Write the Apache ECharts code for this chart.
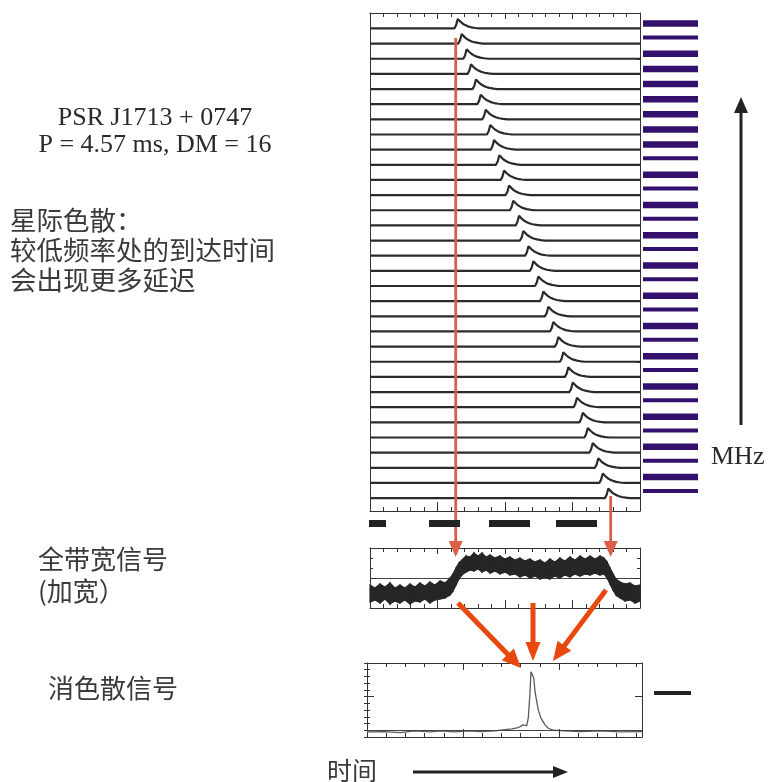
<!DOCTYPE html>
<html><head><meta charset="utf-8">
<script src="https://cdn.jsdelivr.net/npm/echarts@6/dist/echarts.min.js"></script>
<style>html,body{margin:0;padding:0;background:#fff}#c{width:769px;height:782px}</style>
</head><body><div id="c"></div>
<script>
// ---------- DATA ----------
// channel number of each trace, top (highest frequency) to bottom
const channelIndex = [32,31,30,29,28,27,26,25,24,23,22,21,20,19,18,17,16,15,14,13,12,11,10,9,8,7,6,5,4,3,2,1];
// arrival time of the pulse peak in each channel (phase units 0..20), top to bottom
const peakTimes = [6.50,6.79,7.16,7.48,7.85,8.20,8.57,8.91,9.19,9.58,9.93,10.30,10.61,11.04,11.36,11.74,
                   12.10,12.47,12.84,13.21,13.58,13.95,14.32,14.69,15.02,15.33,15.76,16.13,16.50,16.91,17.24,17.65];
// single-channel pulse profile: offset from peak (phase units) and relative amplitude
const pulseDx  = [-0.25,-0.12,0,0.10,0.22,0.37,0.55,0.75,1.0,1.3,1.6];
const pulseAmp = [0,0.35,1,0.85,0.68,0.50,0.35,0.22,0.12,0.05,0];
const pulseHeight = 0.63;
// channel band markers on the right: 1 = wide, 0 = narrow
const bandKind = [1,0,1,1,1,1,1,1,1,0,1,0,1,0,1,0,1,0,1,0,1,0,1,0,1,0,1,0,1,0,1,0];

// full-band (smeared) signal: envelope of the noisy trace
const midX = [0,0.37,0.74,1.11,1.48,1.85,2.22,2.59,2.96,3.33,3.70,4.07,4.44,4.81,5.19,5.56,5.93,6.15,6.37,6.59,
              6.81,7.11,7.41,7.70,8.00,8.30,8.59,8.89,9.26,9.63,10.00,10.37,10.74,11.11,11.48,11.85,12.22,12.59,12.96,13.33,
              13.70,14.07,14.44,14.81,15.19,15.56,15.93,16.30,16.67,17.04,17.33,17.56,17.78,18.00,18.22,18.52,18.89,19.26,19.63,20.00];
const midHigh = [3.83,3.33,4.0,3.5,4.17,3.33,3.83,3.33,4.0,3.5,4.17,3.67,4.33,3.83,4.5,4.17,5.0,5.67,6.67,7.5,
                 8.0,8.67,8.5,9.17,8.67,9.17,8.5,8.83,8.33,8.67,8.17,8.5,8.0,8.33,7.83,8.17,7.67,8.0,7.5,8.17,
                 7.67,8.33,7.83,8.5,8.0,8.67,8.17,8.67,8.17,8.67,8.33,7.67,6.67,5.67,4.83,4.33,4.0,4.17,3.67,3.83];
const midLow  = [1.0,1.33,0.83,1.5,0.67,1.17,0.83,1.33,0.67,1.17,1.0,1.5,0.83,1.33,1.5,1.67,2.17,2.83,3.83,4.83,
                 5.5,6.0,6.33,6.17,6.5,6.0,6.33,5.83,6.17,5.67,6.0,5.5,5.67,5.17,5.5,5.0,5.33,4.83,5.17,4.83,
                 5.33,5.0,5.5,5.17,5.67,5.33,5.67,5.5,5.83,5.5,5.67,5.0,4.0,3.0,2.17,1.67,1.17,1.33,0.83,1.17];

// dedispersed profile
const dedX = [0,0.94,1.72,2.5,3.28,3.8,4.58,5.36,5.89,6.67,7.19,7.55,7.86,7.97,8.13,8.32,8.40,8.48,8.54,8.61,8.68,8.75,8.84,8.92,9.06,9.27,9.44,9.71,10.32,11.09,12.14,13.18,14.32];
const dedY = [-0.05,-0.04,-0.07,-0.02,-0.05,-0.02,-0.05,-0.02,-0.04,-0.02,0.02,0.04,0.08,0.11,0.16,0.14,0.37,1.05,1.74,1.79,1.56,1.15,0.85,0.60,0.36,0.16,0.06,0.0,-0.02,-0.04,-0.02,-0.05,-0.04];

// ---------- CHART ----------
const chart = echarts.init(document.getElementById('c'), null, {renderer:'canvas'});
const INK = '#333';
function xAx(grid, pos, max, interval, len, line){
  return {type:'value', gridIndex:grid, position:pos, min:0, max:max, interval:interval,
    axisLine:{show:line, onZero:false, lineStyle:{color:INK, width:1}},
    axisTick:{show:true, inside:true, length:len, lineStyle:{color:INK, width:1}},
    axisLabel:{show:false}, splitLine:{show:false}};
}
const xAxis = [
  xAx(0,'bottom',20,5,9,true), xAx(0,'bottom',20,1,4,false),
  xAx(0,'top',20,5,6,true),    xAx(0,'top',20,1,4,false),
  xAx(1,'bottom',20,5,8,true), xAx(1,'bottom',20,1,4,false),
  xAx(1,'top',20,5,6,true),    xAx(1,'top',20,1,4,false),
  xAx(2,'bottom',14.32,5,8,true), xAx(2,'bottom',14.32,1,4,false),
  xAx(2,'top',14.32,5,7,true),    xAx(2,'top',14.32,1,4,false),
  {type:'value', gridIndex:3, min:0, max:1, show:false}
];
const yAxis = [
  {type:'value', gridIndex:0, position:'left', min:0.15, max:33.02,
   axisLine:{show:true, onZero:false, lineStyle:{color:INK}}, axisTick:{show:false}, axisLabel:{show:false}, splitLine:{show:false}},
  {type:'value', gridIndex:0, position:'right', min:0.15, max:33.02,
   axisLine:{show:true, onZero:false, lineStyle:{color:INK}},
   axisTick:{show:true, inside:true, length:3, customValues:channelIndex, lineStyle:{color:INK}},
   axisLabel:{show:false}, splitLine:{show:false}},
  {type:'value', gridIndex:1, position:'left', min:0, max:10, interval:5,
   axisLine:{show:true, onZero:false, lineStyle:{color:INK}},
   axisTick:{show:true, inside:true, length:6, lineStyle:{color:INK}},
   minorTick:{show:true, splitNumber:3, length:3, lineStyle:{color:INK}},
   axisLabel:{show:false}, splitLine:{show:true, lineStyle:{color:'#444', width:1}}},
  {type:'value', gridIndex:1, position:'right', min:0, max:10, interval:5,
   axisLine:{show:true, onZero:false, lineStyle:{color:INK}},
   axisTick:{show:true, inside:true, length:6, lineStyle:{color:INK}},
   minorTick:{show:true, splitNumber:3, length:3, lineStyle:{color:INK}},
   axisLabel:{show:false}, splitLine:{show:false}},
  {type:'value', gridIndex:2, position:'left', min:-0.2, max:2,
   axisLine:{show:true, onZero:false, lineStyle:{color:INK}},
   axisTick:{show:true, inside:true, length:7, customValues:[0,1,2], lineStyle:{color:INK}},
   axisLabel:{show:false}, splitLine:{show:false}},
  {type:'value', gridIndex:2, position:'left', min:-0.2, max:2, interval:0.2,
   axisLine:{show:false}, axisTick:{show:true, inside:true, length:3, lineStyle:{color:INK}},
   axisLabel:{show:false}, splitLine:{show:false}},
  {type:'value', gridIndex:2, position:'right', min:-0.2, max:2,
   axisLine:{show:true, onZero:false, lineStyle:{color:INK}},
   axisTick:{show:true, inside:true, length:7, customValues:[0,1,2], lineStyle:{color:INK}},
   axisLabel:{show:false}, splitLine:{show:false}},
  {type:'value', gridIndex:2, position:'right', min:-0.2, max:2, interval:0.2,
   axisLine:{show:false}, axisTick:{show:true, inside:true, length:3, lineStyle:{color:INK}},
   axisLabel:{show:false}, splitLine:{show:false}},
  {type:'category', gridIndex:3, inverse:true, data:channelIndex.map(String), show:false}
];

const series = [];
peakTimes.forEach((pt, i) => {
  const base = channelIndex[i];
  const pts = [[0, base]];
  pulseDx.forEach((dx, j) => pts.push([pt + dx, base + pulseAmp[j] * pulseHeight]));
  pts.push([20, base]);
  series.push({type:'line', xAxisIndex:0, yAxisIndex:0, data:pts, symbol:'none',
    lineStyle:{color:'#2a2a2a', width:2.2}, silent:true});
});
// full-band signal as a filled band between its lower and upper envelopes
series.push({type:'custom', xAxisIndex:4, yAxisIndex:2, silent:true,
  data:midX.map((x,i)=>[x, midLow[i], midHigh[i]]),
  renderItem:function(params, api){
    const i = params.dataIndex;
    if (i >= midX.length - 1) return null;
    const a = api.coord([api.value(0), api.value(1)]);
    const b = api.coord([api.value(0), api.value(2)]);
    const c = api.coord([midX[i+1], midHigh[i+1]]);
    const d = api.coord([midX[i+1], midLow[i+1]]);
    return {type:'polygon', shape:{points:[a,b,c,d]},
      style:{fill:'#262626', stroke:'#262626', lineWidth:1.2}};
  }});
series.push({type:'line', xAxisIndex:8, yAxisIndex:5, symbol:'none',
  data:dedX.map((x,i)=>[x, dedY[i]]), lineStyle:{color:'#5a5a5a', width:1.3}, silent:true,
  markLine:{silent:true, symbol:'none', label:{show:false}, lineStyle:{color:'#444', type:'solid', width:1},
    data:[{yAxis:0}]}});
series.push({type:'bar', xAxisIndex:12, yAxisIndex:8, barWidth:6.5, barGap:'-100%',
  data:bandKind.map(k => k ? 1 : '-'), itemStyle:{color:'#32106b'}, silent:true});
series.push({type:'bar', xAxisIndex:12, yAxisIndex:8, barWidth:4, barGap:'-100%',
  data:bandKind.map(k => k ? '-' : 1), itemStyle:{color:'#32106b'}, silent:true});

// ---------- ANNOTATIONS ----------
function arrow(x1,y1,x2,y2,w,hl,hw,color){
  const dx=x2-x1, dy=y2-y1, L=Math.hypot(dx,dy), ux=dx/L, uy=dy/L;
  const bx=x2-ux*hl, by=y2-uy*hl, px=-uy, py=ux;
  return [
    {type:'line', z:100, shape:{x1:x1,y1:y1,x2:bx+ux*2,y2:by+uy*2}, style:{stroke:color, lineWidth:w}},
    {type:'polygon', z:100, shape:{points:[[x2,y2],[bx+px*hw/2,by+py*hw/2],[bx-px*hw/2,by-py*hw/2]]}, style:{fill:color}}
  ];
}
const RED='#d95f48', ORANGE='#e8480c';
const serif='"Liberation Serif", "Times New Roman", serif';
const cjk='"Noto Sans CJK SC", sans-serif';
function txt(t,x,y,font,align,color){
  return {type:'text', z:100, x:x, y:y, style:{text:t, font:font, fill:color||'#2a2a2a', align:align||'left', verticalAlign:'middle'}};
}
const graphic = [].concat(
  arrow(455.7,38,455.7,557,2.8,16,14,RED),
  arrow(610.7,496,610.7,557,2.8,16,14,RED),
  arrow(458,603,521,668,5,19,17,ORANGE),
  arrow(533,603,533,661,5,19,15,ORANGE),
  arrow(606,590,553,661,5,19,17,ORANGE),
  arrow(741,425,741,97,3,16,14,'#222'),
  arrow(413,772,568,772,3,15,12,'#222'),
  [
    {type:'rect', z:100, shape:{x:369,y:520,width:17,height:7}, style:{fill:'#222'}},
    {type:'rect', z:100, shape:{x:429,y:520,width:31,height:7}, style:{fill:'#222'}},
    {type:'rect', z:100, shape:{x:489,y:520,width:41,height:7}, style:{fill:'#222'}},
    {type:'rect', z:100, shape:{x:556,y:520,width:41,height:7}, style:{fill:'#222'}},
    {type:'rect', z:100, shape:{x:654,y:691,width:37,height:4}, style:{fill:'#222'}},
    txt('PSR J1713 + 0747',155,118,'26px '+serif,'center'),
    txt('P = 4.57 ms, DM = 16',155,145,'26px '+serif,'center'),
    txt('MHz',711,457,'26px '+serif),
    txt('星际色散：',10,220,'26.5px '+cjk,'left','#3a3a3a'),
    txt('较低频率处的到达时间',10,250,'26.5px '+cjk,'left','#3a3a3a'),
    txt('会出现更多延迟',10,280,'26.5px '+cjk,'left','#3a3a3a'),
    txt('全带宽信号',38,559,'26px '+cjk,'left','#3a3a3a'),
    txt('(加宽）',38,591,'26px '+cjk,'left','#3a3a3a'),
    txt('消色散信号',48,688,'26px '+cjk,'left','#3a3a3a'),
    txt('时间',327,770,'25px '+cjk,'left','#3a3a3a')
  ]
);

chart.setOption({
  animation:false,
  backgroundColor:'#fff',
  grid:[
    {left:370, top:13, width:270, height:498},
    {left:370, top:548, width:270, height:60},
    {left:367, top:663, width:275, height:74},
    {left:643, top:14.74, width:55, height:483.8}
  ],
  xAxis:xAxis, yAxis:yAxis, series:series, graphic:graphic
});
</script></body></html>
